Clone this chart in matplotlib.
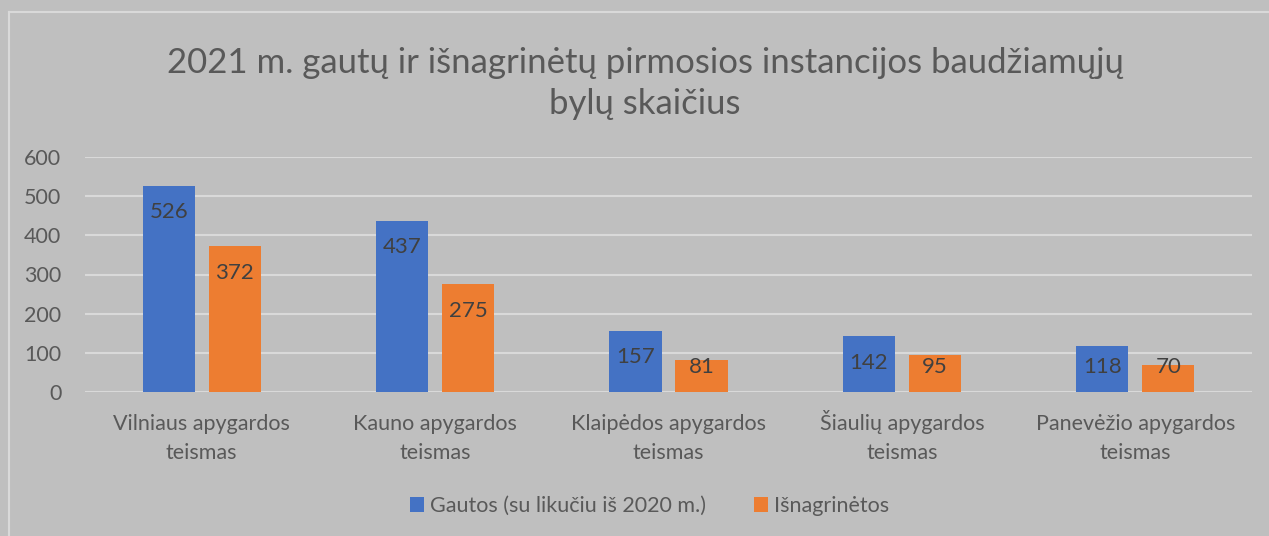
import numpy as np
import matplotlib.pyplot as plt
import matplotlib.transforms as mtransforms
from matplotlib.lines import Line2D

plt.rcParams['font.family'] = ['Lato', 'DejaVu Sans']

teismai = ['Vilniaus apygardos\nteismas', 'Kauno apygardos\nteismas',
           'Klaipėdos apygardos\nteismas', 'Šiaulių apygardos\nteismas',
           'Panevėžio apygardos\nteismas']
gautos = [526, 437, 157, 142, 118]
isnagrinetos = [372, 275, 81, 95, 70]
serijos = ['Gautos (su likučiu iš 2020 m.)', 'Išnagrinėtos']

fonas = '#BFBFBF'
tekstas = '#595959'

fig = plt.figure(figsize=(12.69, 5.36), dpi=100, facecolor=fonas)
ax = fig.add_axes([85/1269, 1-392/536, (1252-85)/1269, (392-157)/536])
ax.set_facecolor(fonas)

# remelis kaip Excelyje
fig.add_artist(Line2D([9/1269, 9/1269], [0, 1-12/536], color='#D9D9D9', lw=1.5))
fig.add_artist(Line2D([9/1269, 1], [1-12/536, 1-12/536], color='#D9D9D9', lw=1.5))

x = np.arange(len(teismai))
w = 0.223
b1 = ax.bar(x - 0.1414, gautos, w, color='#4472C4', label=serijos[0], zorder=3)
b2 = ax.bar(x + 0.1414, isnagrinetos, w, color='#ED7D31', label=serijos[1], zorder=3)

# etikete virsuje stulpelio, bet ne zemiau nei ~25 px nuo asies (kaip Excel)
for bars in (b1, b2):
    for r in bars:
        h = r.get_height()
        ax.annotate(str(int(h)), (r.get_x() + r.get_width()/2, max(h, 130)),
                    xytext=(0, -19), textcoords='offset points',
                    ha='center', va='center', fontsize=16, color='#404040', zorder=4)

ax.set_xlim(-0.5, 4.5)
ax.set_ylim(0, 600)
ax.set_yticks(range(0, 700, 100))
ax.yaxis.grid(True, color='#D9D9D9', lw=1.5, zorder=0)
ax.set_xticks([])
ax.tick_params(axis='y', labelsize=15.5, labelcolor=tekstas, length=0, pad=17)
for s in ax.spines.values():
    s.set_visible(False)

# kategoriju pavadinimai dviem eilutem
for xi, t in zip(x, teismai):
    for k, eil in enumerate(t.split('\n')):
        tr = ax.get_xaxis_transform() + mtransforms.ScaledTranslation(0, -(38 + 29*k)/100, fig.dpi_scale_trans)
        ax.text(xi, 0, eil, transform=tr, ha='center', va='baseline',
                fontsize=15.5, color=tekstas)

fig.text(645/1269, 1-63/536, '2021 m. gautų ir išnagrinėtų pirmosios instancijos baudžiamųjų',
         ha='center', va='center', fontsize=25, color=tekstas)
fig.text(645/1269, 1-104/536, 'bylų skaičius', ha='center', va='center', fontsize=25, color=tekstas)

fig.legend(loc='center', bbox_to_anchor=(0.512, 1-506/536), ncol=2, frameon=False,
           fontsize=15.5, labelcolor=tekstas, handlelength=0.65, handleheight=0.65,
           handletextpad=0.3, columnspacing=2.2)

fig.savefig('out.png', dpi=100, facecolor=fonas)
